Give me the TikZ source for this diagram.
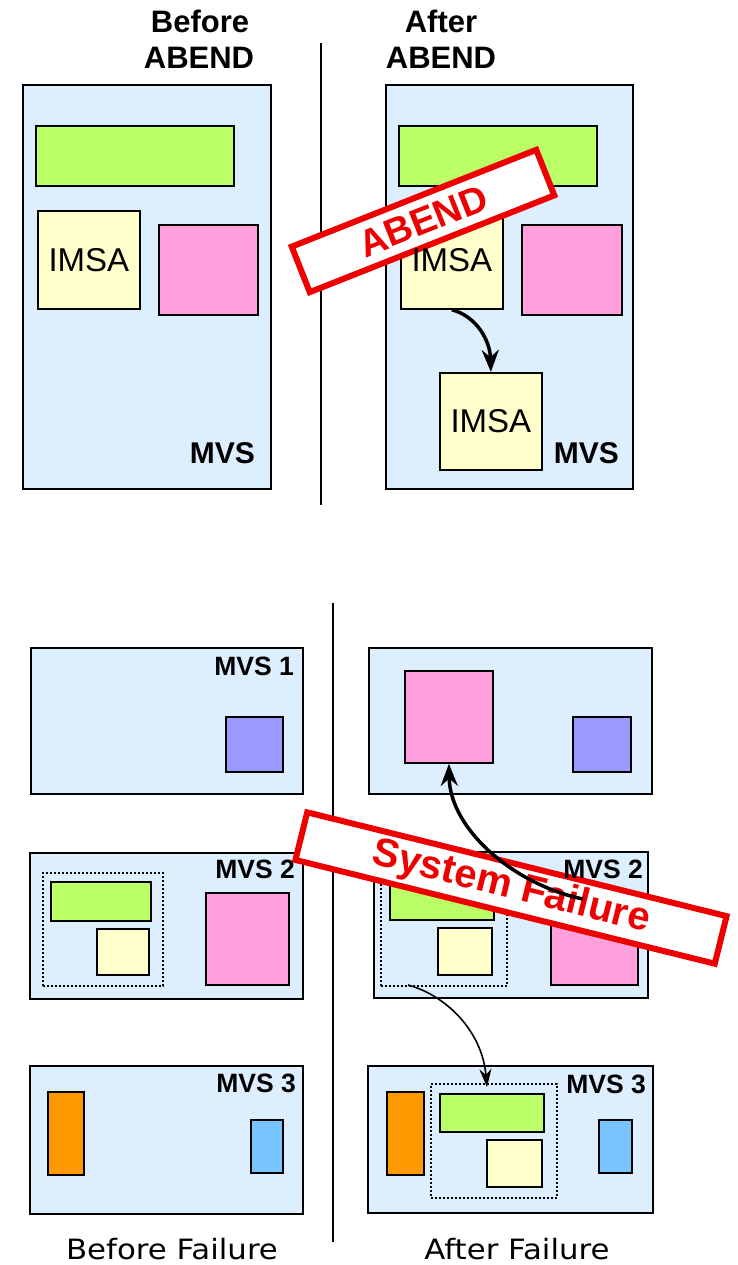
\documentclass[tikz,border=0pt]{standalone}
\usepackage{fontspec}
\setmainfont{Liberation Sans}
\newfontfamily\capfont[FakeStretch=1.1]{DejaVu Sans}
\usetikzlibrary{arrows.meta}
\definecolor{mvsblue}{HTML}{DDEEFF}
\definecolor{cgreen}{HTML}{BBFF66}
\definecolor{cyellow}{HTML}{FFFFCC}
\definecolor{cpink}{HTML}{FFA0DD}
\definecolor{cpurple}{HTML}{9999FF}
\definecolor{corange}{HTML}{FF9900}
\definecolor{clblue}{HTML}{77C4FF}
\definecolor{stampred}{HTML}{EE0000}
\tikzset{
  mvs/.style={draw=black, line width=1.8pt, fill=mvsblue, inner sep=0pt, anchor=north west},
  blk/.style={draw=black, line width=1.8pt, inner sep=0pt, anchor=north west},
  grp/.style={draw=black, line width=1.8pt, dash pattern=on 1.8pt off 2.2pt, inner sep=0pt, anchor=north west},
  stamp/.style={draw=stampred, line width=6pt, fill=white, inner sep=0pt, text=stampred},
  lbl/.style={font=\bfseries\fontsize{26.5}{26.5}\selectfont, anchor=base east, inner sep=0pt},
  biglbl/.style={font=\bfseries\fontsize{30}{30}\selectfont, anchor=base east, inner sep=0pt},
  hdr/.style={font=\bfseries\fontsize{31}{31}\selectfont, anchor=base, inner sep=0pt},
  imsa/.style={font=\fontsize{33}{33}\selectfont},
  captxt/.style={font=\capfont\fontsize{28}{28}\selectfont, inner sep=0pt, anchor=base},
  divider/.style={line width=1.5pt},
  bigarrow/.style={line width=3.5pt, -{Stealth[length=22pt,width=17pt]}},
  thinarrow/.style={line width=1.6pt, -{Stealth[length=18pt,width=12pt]}},
}
\begin{document}
\begin{tikzpicture}[x=1pt,y=-1pt]
\useasboundingbox (0,0) rectangle (738,1265);
% headers
\node[hdr] (h1a) at (200,33) {Before};
\node[hdr] (h1b) at (199,69) {ABEND};
\node[hdr] (h2a) at (441,33) {After};
\node[hdr] (h2b) at (441,69) {ABEND};
% dividers
\coordinate (d1t) at (321,43); \coordinate (d1b) at (321,505);
\draw[divider] (d1t) -- (d1b);
\coordinate (d2t) at (333,603); \coordinate (d2b) at (333,1242);
\draw[divider] (d2t) -- (d2b);
% top-left
\node[mvs, minimum width=248, minimum height=404] (tl) at (22,84) {};
\node[blk, fill=cgreen, minimum width=198, minimum height=60] (tlG) at (35,125) {};
\node[blk, fill=cyellow, minimum width=102, minimum height=98, imsa] (tlI) at (37,210) {IMSA};
\node[blk, fill=cpink, minimum width=99, minimum height=90] (tlP) at (158,224) {};
\node[biglbl] (tlL) at (255,463) {MVS};
% top-right
\node[mvs, minimum width=247, minimum height=404] (tr) at (385,84) {};
\node[blk, fill=cgreen, minimum width=198, minimum height=60] (trG) at (398,125) {};
\node[blk, fill=cyellow, minimum width=102, minimum height=98] (trI) at (400,210) {};
\node[blk, fill=cpink, minimum width=100, minimum height=90] (trP) at (521,224) {};
\node[blk, fill=cyellow, minimum width=102, minimum height=97, imsa] (trI2) at (439,372) {IMSA};
\node[biglbl] (trL) at (619,463) {MVS};
\node[stamp, minimum width=263, minimum height=49, rotate=21.6, font=\bfseries\fontsize{38}{38}\selectfont] (abend) at (423,221) {ABEND};
\node[imsa] (trIt) at (trI.center) {IMSA};
\draw[bigarrow] (trI.south) .. controls (476,316) and (490,340) .. (trI2.north);
% bottom-left
\node[mvs, minimum width=272, minimum height=146] (m1L) at (30,647) {};
\node[blk, fill=cpurple, minimum width=57, minimum height=55] (m1Lv) at (225,716) {};
\node[lbl] (m1Ll) at (294,675) {MVS 1};
\node[mvs, minimum width=273, minimum height=146] (m2L) at (29,852) {};
\node[grp, minimum width=120, minimum height=113] (m2Ld) at (42,872) {};
\node[blk, fill=cgreen, minimum width=100, minimum height=39] (m2Lg) at (50,881) {};
\node[blk, fill=cyellow, minimum width=52, minimum height=46] (m2Ly) at (96,928) {};
\node[blk, fill=cpink, minimum width=83, minimum height=92] (m2Lp) at (205,892) {};
\node[lbl] (m2Ll) at (295,878) {MVS 2};
\node[mvs, minimum width=273, minimum height=148] (m3L) at (29,1065) {};
\node[blk, fill=corange, minimum width=36, minimum height=83] (m3Lo) at (47,1091) {};
\node[blk, fill=clblue, minimum width=32, minimum height=53] (m3Lb) at (250,1119) {};
\node[lbl] (m3Ll) at (296,1092) {MVS 3};
% bottom-right
\node[mvs, minimum width=283, minimum height=146] (m1R) at (368,647) {};
\node[blk, fill=cpink, minimum width=88, minimum height=92] (m1Rp) at (404,670) {};
\node[blk, fill=cpurple, minimum width=58, minimum height=55] (m1Rv) at (572,716) {};
\node[mvs, minimum width=274, minimum height=146] (m2R) at (373,851) {};
\node[grp, minimum width=126, minimum height=113] (m2Rd) at (380,872) {};
\node[blk, fill=cgreen, minimum width=104, minimum height=38] (m2Rg) at (389,881) {};
\node[blk, fill=cyellow, minimum width=54, minimum height=47] (m2Ry) at (437,927) {};
\node[blk, fill=cpink, minimum width=87, minimum height=92] (m2Rp) at (550,892) {};
\node[mvs, minimum width=285, minimum height=147] (m3R) at (367,1065) {};
\node[blk, fill=corange, minimum width=37, minimum height=83] (m3Ro) at (386,1091) {};
\node[grp, minimum width=126, minimum height=114] (m3Rd) at (430,1083) {};
\node[blk, fill=cgreen, minimum width=104, minimum height=38] (m3Rg) at (439,1093) {};
\node[blk, fill=cyellow, minimum width=55, minimum height=47] (m3Ry) at (486,1139) {};
\node[blk, fill=clblue, minimum width=33, minimum height=53] (m3Rb) at (598,1119) {};
\node[lbl] (m3Rl) at (646,1093) {MVS 3};
\node[stamp, minimum width=432, minimum height=49, rotate=-13.9, font=\bfseries\fontsize{40}{40}\selectfont] (sf) at (511,888) {System Failure};
\node[lbl] (m2Rl) at (643,878) {MVS 2};
\coordinate (sfs) at (583,899);
\draw[bigarrow] (sfs) .. controls (515,885) and (450,830) .. (m1Rp.south);
\coordinate (g2out) at (408,985);
\coordinate (g3in) at (487,1087);
\draw[thinarrow] (g2out) .. controls (445,995) and (482,1030) .. (g3in);
% captions
\node[captxt] (c1) at (172,1259) {Before Failure};
\node[captxt] (c2) at (517,1259) {After Failure};
\end{tikzpicture}
\end{document}
